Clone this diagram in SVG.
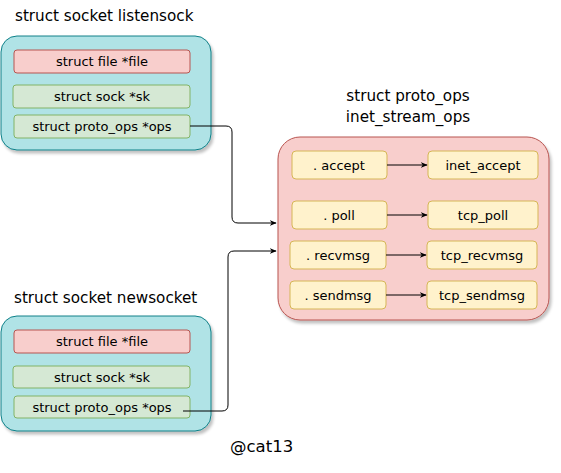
<svg xmlns="http://www.w3.org/2000/svg" width="561" height="473" viewBox="0 0 561 473">
<defs>
<filter id="sh" x="-10%" y="-10%" width="130%" height="130%">
<feGaussianBlur in="SourceAlpha" stdDeviation="1.5"/>
<feOffset dx="2" dy="3" result="b"/>
<feComponentTransfer><feFuncA type="linear" slope="0.25"/></feComponentTransfer>
<feMerge><feMergeNode/><feMergeNode in="SourceGraphic"/></feMerge>
</filter>
<marker id="ah" viewBox="0 0 10 10" refX="9" refY="5" markerWidth="7" markerHeight="7" orient="auto" markerUnits="userSpaceOnUse">
<path d="M0,1 L10,5 L0,9 L3,5 Z" fill="#000"/>
</marker>
<style>
text{font-family:"Comic Sans MS","DejaVu Sans",sans-serif;fill:#000;}
.t{font-size:15.2px;}
.l{font-size:13px;text-anchor:middle;}
.c{fill:#b0e3e6;stroke:#0e8088;stroke-width:1;}
.r{fill:#f8cecc;stroke:#b85450;stroke-width:1;}
.g{fill:#d5e8d4;stroke:#82b366;stroke-width:1;}
.y{fill:#fff2cc;stroke:#d6b656;stroke-width:1;}
.e{fill:none;stroke:#000;stroke-width:1;}
</style>
</defs>
<g id="listensock">
<text class="t" x="15" y="21">struct socket listensock</text>
<rect class="c" filter="url(#sh)" x="1" y="36" width="210" height="114" rx="16"/>
<rect class="r" x="14" y="50" width="176" height="23" rx="3"/>
<text class="l" x="102" y="66">struct file *file</text>
<rect class="g" x="13" y="85" width="177" height="23" rx="3"/>
<text class="l" x="102" y="101">struct sock *sk</text>
<rect class="g" x="14" y="115" width="176" height="23" rx="3"/>
<text class="l" x="102" y="131">struct proto_ops *ops</text>
</g>
<g id="newsocket">
<text class="t" x="14" y="303">struct socket newsocket</text>
<rect class="c" filter="url(#sh)" x="1" y="316" width="210" height="115" rx="16"/>
<rect class="r" x="14" y="330" width="176" height="23" rx="3"/>
<text class="l" x="102" y="346">struct file *file</text>
<rect class="g" x="13" y="366" width="177" height="22" rx="3"/>
<text class="l" x="102" y="382">struct sock *sk</text>
<rect class="g" x="14" y="396" width="176" height="22" rx="3"/>
<text class="l" x="102" y="412">struct proto_ops *ops</text>
</g>
<g id="inet_stream_ops">
<text class="t" x="408" y="101" text-anchor="middle">struct proto_ops</text>
<text class="t" x="408" y="122" text-anchor="middle">inet_stream_ops</text>
<rect class="r" filter="url(#sh)" x="278" y="137" width="271" height="183" rx="22"/>
</g>
<g id="accept">
<rect class="y" x="292" y="151" width="95" height="28" rx="4"/>
<text class="l" x="339" y="170">. accept</text>
</g>
<g id="inet_accept">
<rect class="y" x="428" y="151" width="110" height="28" rx="4"/>
<text class="l" x="483" y="170">inet_accept</text>
</g>
<g id="poll">
<rect class="y" x="292" y="201" width="95" height="28" rx="4"/>
<text class="l" x="339" y="220">. poll</text>
</g>
<g id="tcp_poll">
<rect class="y" x="428" y="201" width="110" height="28" rx="4"/>
<text class="l" x="483" y="220">tcp_poll</text>
</g>
<g id="recvmsg">
<rect class="y" x="290" y="241" width="96" height="28" rx="4"/>
<text class="l" x="338" y="260">. recvmsg</text>
</g>
<g id="tcp_recvmsg">
<rect class="y" x="427" y="241" width="110" height="28" rx="4"/>
<text class="l" x="482" y="260">tcp_recvmsg</text>
</g>
<g id="sendmsg">
<rect class="y" x="290" y="281" width="96" height="28" rx="4"/>
<text class="l" x="338" y="300">. sendmsg</text>
</g>
<g id="tcp_sendmsg">
<rect class="y" x="427" y="281" width="110" height="28" rx="4"/>
<text class="l" x="482" y="300">tcp_sendmsg</text>
</g>
<g id="credit">
<text x="230" y="452" style="font-size:16.5px;">@cat13</text>
</g>
<g id="connectors">
<path class="e" marker-end="url(#ah)" d="M190,126 H226 Q232,126 232,132 V217 Q232,223 238,223 H276"/>
<path class="e" marker-end="url(#ah)" d="M183,411 H222 Q228,411 228,405 V257 Q228,251 234,251 H276"/>
<path class="e" marker-end="url(#ah)" d="M387,165 H427"/>
<path class="e" marker-end="url(#ah)" d="M387,215 H427"/>
<path class="e" marker-end="url(#ah)" d="M386,255 H426"/>
<path class="e" marker-end="url(#ah)" d="M386,295 H426"/>
</g>
</svg>
